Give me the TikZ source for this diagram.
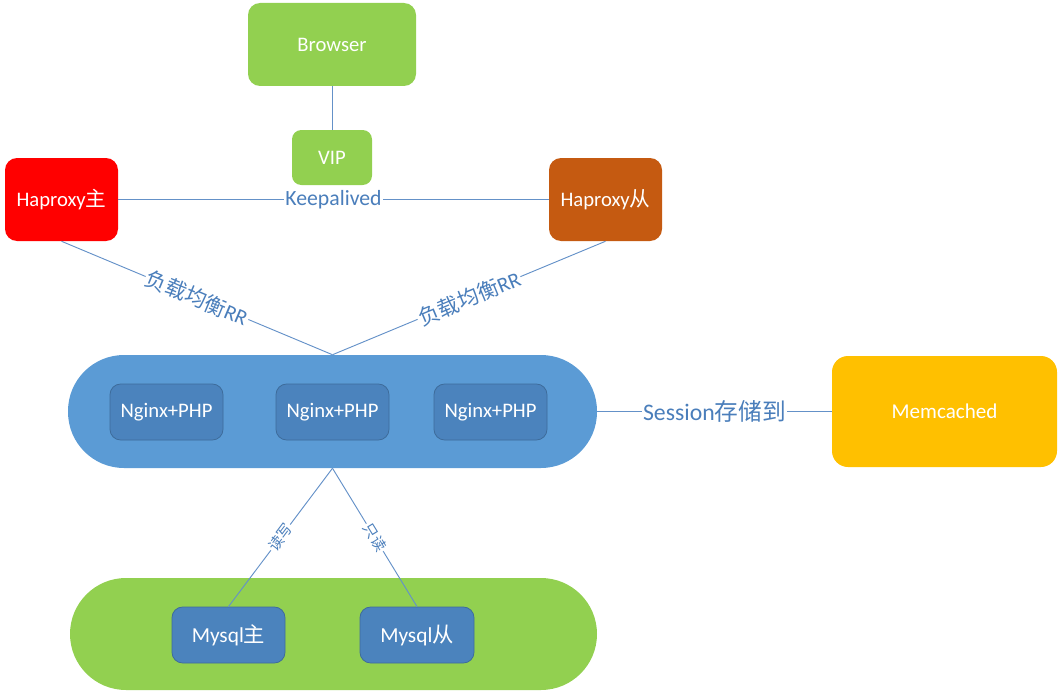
\documentclass[tikz,border=0pt]{standalone}
\usepackage{fontspec}
\setmainfont{Carlito}
\newfontfamily\cjk{Noto Sans CJK SC}
\definecolor{lineC}{RGB}{100,145,200}
\definecolor{labC}{RGB}{74,126,187}
\definecolor{greenC}{RGB}{146,208,80}
\definecolor{blueC}{RGB}{91,155,213}
\definecolor{innerC}{RGB}{75,131,189}
\definecolor{innerB}{RGB}{62,108,155}
\definecolor{redC}{RGB}{255,0,0}
\definecolor{brownC}{RGB}{197,90,17}
\definecolor{goldC}{RGB}{255,192,0}
\tikzset{
  box/.style={rectangle, rounded corners=9pt, text=white, font=\fontsize{15.5}{17}\selectfont, inner sep=0pt},
  inbox/.style={box, fill=innerC, draw=innerB, line width=0.6pt, rounded corners=8pt},
  conn/.style={draw=lineC, line width=0.7pt},
  lab/.style={text=labC, fill=white, inner sep=1pt},
}
\begin{document}
\begin{tikzpicture}[x=0.75pt,y=-0.75pt]
\useasboundingbox (0,0) rectangle (1064,699);
% containers
\node[box, fill=blueC, rounded corners=42pt, minimum width=396.75pt, minimum height=84.75pt] (web) at (332.5,411.5) {};
\node[box, fill=greenC, rounded corners=42pt, minimum width=395.25pt, minimum height=84pt] (db) at (333.5,634) {};
% top
\node[box, fill=greenC, minimum width=126pt, minimum height=62.25pt] (browser) at (332,44.5) {Browser};
\node[box, fill=greenC, rounded corners=7pt, minimum width=60pt, minimum height=41.25pt] (vip) at (332,157.5) {VIP};
\node[box, fill=redC, minimum width=84.75pt, minimum height=62.25pt] (hm) at (61.5,199.5) {Haproxy{\cjk 主}};
\node[box, fill=brownC, minimum width=84.75pt, minimum height=62.25pt] (hs) at (605.5,199.5) {Haproxy{\cjk 从}};
\node[box, fill=goldC, rounded corners=12pt, minimum width=168.75pt, minimum height=83.25pt, font=\fontsize{15.8}{17}\selectfont] (mem) at (944.5,411.5) {Memcached};
% inner boxes
\node[inbox, minimum width=84.75pt, minimum height=42pt] (n1) at (166.5,412) {Nginx+PHP};
\node[inbox, minimum width=84.75pt, minimum height=42pt] (n2) at (332.5,412) {Nginx+PHP};
\node[inbox, minimum width=84.75pt, minimum height=42pt] (n3) at (490.5,412) {Nginx+PHP};
\node[inbox, minimum width=84.75pt, minimum height=42pt, font=\fontsize{16}{18}\selectfont] (m1) at (228.5,635) {Mysql{\cjk 主}};
\node[inbox, minimum width=85.5pt, minimum height=42pt, font=\fontsize{16}{18}\selectfont] (m2) at (417,635) {Mysql{\cjk 从}};
% connectors
\draw[conn] (browser.south) -- (vip.north);
\draw[conn] (hm.east) -- node[lab, font=\fontsize{16.3}{18}\selectfont] {Keepalived} (hs.west);
\draw[conn] (hm.south) -- node[lab, sloped, font=\fontsize{16}{18}\selectfont] {{\cjk 负载均衡}RR} (web.north);
\draw[conn] (hs.south) -- node[lab, sloped, font=\fontsize{16}{18}\selectfont] {{\cjk 负载均衡}RR} (web.north);
\draw[conn] (web.east) -- node[lab, font=\fontsize{17.8}{19}\selectfont] {Session{\cjk 存储到}} (mem.west);
\draw[conn] (web.south) -- node[lab, sloped, font=\fontsize{11}{12}\selectfont] {\cjk 读写} (m1.north);
\draw[conn] (web.south) -- node[lab, sloped, font=\fontsize{11}{12}\selectfont] {\cjk 只读} (m2.north);
\end{tikzpicture}
\end{document}
